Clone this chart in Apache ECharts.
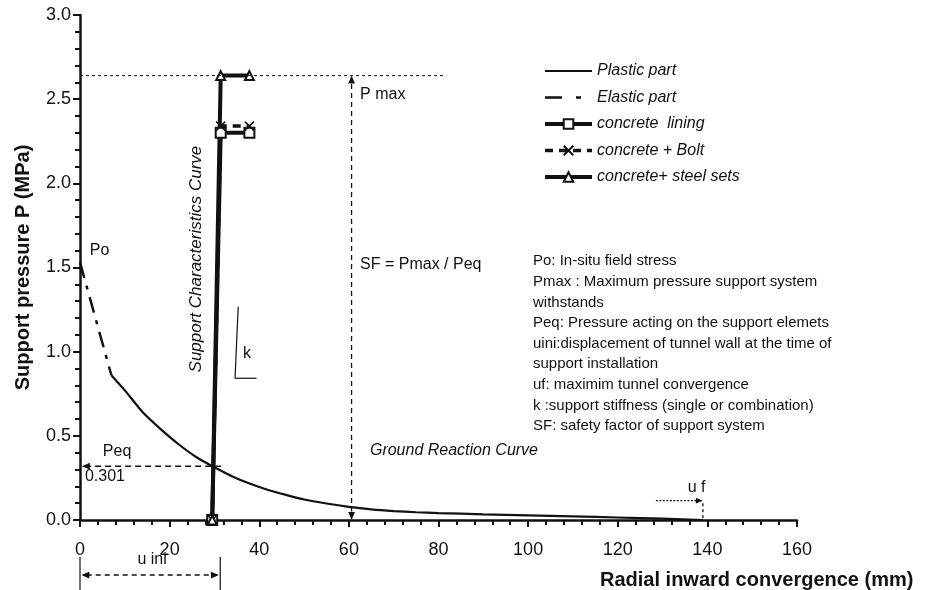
<!DOCTYPE html>
<html lang="en">
<head>
    <meta charset="UTF-8"/>
    <title>GRC / SCC</title>
    <script src="https://cdn.jsdelivr.net/npm/echarts@6.0.0/dist/echarts.min.js"></script>
    <style>
        html, body { margin: 0; padding: 0; background: #fff; }
        #main { width: 944px; height: 590px; }
    </style>
</head>
<body>
<div id="main"></div>

<script type="text/javascript">
    // ground reaction curve (plastic + elastic part)
    var plasticU = [7, 10, 14, 18, 22, 26, 30, 34, 38, 42, 46, 50, 55, 60, 65, 70, 75, 80, 90, 100, 110, 120, 130, 139];
    var plasticP = [0.86, 0.77, 0.64, 0.54, 0.45, 0.373, 0.313, 0.259, 0.215, 0.178, 0.149, 0.122, 0.098, 0.078, 0.063, 0.053, 0.046, 0.041, 0.034, 0.028, 0.022, 0.015, 0.008, 0];
    var elasticU = [0, 7];
    var elasticP = [1.53, 0.86];

    // support characteristic curves
    var supportU = [29.5, 31.4, 37.8];
    var liningP = [0, 2.30, 2.30];
    var boltP = [0, 2.34, 2.34];
    var steelP = [0, 2.64, 2.64];

    var xTicks = [0, 20, 40, 60, 80, 100, 120, 140, 160];
    var yTicks = [0.0, 0.5, 1.0, 1.5, 2.0, 2.5, 3.0];

    // annotation values
    var pMax = 2.64;
    var pEq = 0.32;
    var uIni = 31.3;
    var uF = 139;

    var FONT = 'Liberation Sans, Arial, Helvetica, sans-serif';
    var INK = '#111';

    function pairs(xs, ys) {
        var out = [];
        for (var i = 0; i < xs.length; i++) out.push([xs[i], ys[i]]);
        return out;
    }

    var myChart = echarts.init(document.getElementById('main'));
    var option = {
        animation: false,
        backgroundColor: '#fff',
        grid: { left: 80, right: 147, top: 15, bottom: 70 },
        legend: {
            orient: 'vertical',
            left: 538,
            top: 58,
            itemWidth: 47,
            itemHeight: 12,
            itemGap: 10.5,
            lineStyle: { width: 'inherit' },
            textStyle: { fontFamily: FONT, fontSize: 16, fontStyle: 'italic', color: INK },
            data: [
                { name: 'Plastic part', icon: 'path://M0,0h47v2h-47z' },
                { name: 'Elastic part', icon: 'path://M0,0h17v2.5h-17zM31,0h5v2.5h-5zM46.9,0h0.1v0.1h-0.1z' },
                { name: 'concrete  lining' },
                { name: 'concrete + Bolt' },
                { name: 'concrete+ steel sets' }
            ]
        },
        xAxis: {
            type: 'value',
            min: xTicks[0],
            max: xTicks[xTicks.length - 1],
            interval: xTicks[1] - xTicks[0],
            splitLine: { show: false },
            axisLine: { lineStyle: { color: INK, width: 2.5 } },
            axisTick: { length: 7, lineStyle: { color: INK, width: 2 } },
            minorTick: { show: true, splitNumber: 5, length: 5, lineStyle: { color: INK, width: 2 } },
            axisLabel: { margin: 21, color: INK, fontSize: 18, fontFamily: FONT }
        },
        yAxis: {
            type: 'value',
            min: yTicks[0],
            max: yTicks[yTicks.length - 1],
            interval: yTicks[1] - yTicks[0],
            name: 'Support pressure P (MPa)',
            nameLocation: 'middle',
            nameGap: 47,
            nameTextStyle: { fontFamily: FONT, fontSize: 20, fontWeight: 'bold', color: INK },
            splitLine: { show: false },
            axisLine: { lineStyle: { color: INK, width: 2.5 } },
            axisTick: { length: 7, lineStyle: { color: INK, width: 2 } },
            minorTick: { show: true, splitNumber: 5, length: 5, lineStyle: { color: INK, width: 2 } },
            axisLabel: {
                margin: 9, color: INK, fontSize: 18, fontFamily: FONT,
                formatter: function (v) { return v.toFixed(1); }
            }
        },
        series: [
            {
                name: 'Plastic part',
                type: 'line',
                data: pairs(plasticU, plasticP),
                smooth: 0.2,
                showSymbol: false,
                symbol: 'none',
                itemStyle: { color: INK },
                lineStyle: { color: INK, width: 2.2 }
            },
            {
                name: 'Elastic part',
                type: 'line',
                data: pairs(elasticU, elasticP),
                showSymbol: false,
                symbol: 'none',
                itemStyle: { color: INK },
                lineStyle: { color: INK, width: 2.5, type: [16, 8, 4, 8] }
            },
            {
                name: 'concrete  lining',
                type: 'line',
                data: pairs(supportU, liningP),
                clip: false,
                symbol: 'emptyRect',
                symbolSize: 10,
                itemStyle: { color: INK, borderWidth: 1.5 },
                lineStyle: { color: INK, width: 4 }
            },
            {
                name: 'concrete + Bolt',
                type: 'line',
                data: pairs(supportU, boltP),
                clip: false,
                symbol: 'path://M0,0L10,10M10,0L0,10',
                symbolSize: 9,
                itemStyle: { color: INK, borderColor: INK, borderWidth: 1.5 },
                lineStyle: { color: INK, width: 3.5, type: [8, 6] }
            },
            {
                name: 'concrete+ steel sets',
                type: 'line',
                data: pairs(supportU, steelP),
                clip: false,
                symbol: 'emptyTriangle',
                symbolSize: 9,
                itemStyle: { color: INK, borderWidth: 1.5 },
                lineStyle: { color: INK, width: 4 }
            }
        ]
    };
    myChart.setOption(option);

    // annotations placed through the chart's own scales
    function px(u, p) { return myChart.convertToPixel({ seriesIndex: 0 }, [u, p]); }

    function seg(a, b, dash, w) {
        var p1 = px(a[0], a[1]), p2 = px(b[0], b[1]);
        return {
            type: 'line', silent: true, z: 10,
            shape: { x1: p1[0], y1: p1[1], x2: p2[0], y2: p2[1] },
            style: { stroke: INK, lineWidth: w || 1.3, lineDash: dash || null }
        };
    }

    function head(tip, from, size) {
        var t = px(tip[0], tip[1]), f = px(from[0], from[1]);
        var dx = t[0] - f[0], dy = t[1] - f[1];
        var len = Math.sqrt(dx * dx + dy * dy) || 1;
        dx /= len; dy /= len;
        size = size || 8;
        var bx = t[0] - dx * size, by = t[1] - dy * size;
        var nx = -dy * size * 0.42, ny = dx * size * 0.42;
        return {
            type: 'polygon', silent: true, z: 10,
            shape: { points: [[t[0], t[1]], [bx + nx, by + ny], [bx - nx, by - ny]] },
            style: { fill: INK }
        };
    }

    function txt(u, p, s, o) {
        o = o || {};
        var q = px(u, p);
        return {
            type: 'text', silent: true, z: 10,
            x: q[0], y: q[1], rotation: o.rotation || 0,
            style: {
                text: s, fill: INK, fontFamily: FONT,
                fontSize: o.size || 16, fontStyle: o.italic ? 'italic' : 'normal',
                align: o.align || 'left', verticalAlign: 'middle'
            }
        };
    }

    var notes = [
        // Pmax level and the safety factor arrow
        seg([0, pMax], [81.5, pMax], [3, 3], 1),
        seg([60.6, pMax - 0.05], [60.6, 0.05], [5, 4], 1.3),
        head([60.6, pMax], [60.6, 0]),
        head([60.6, 0], [60.6, pMax]),
        // Peq arrow
        seg([31.5, pEq], [1.5, pEq], [6, 4], 1.5),
        head([0.4, pEq], [31.5, pEq]),
        // initial displacement below the axis
        seg([0, -0.22], [0, -0.42], null, 1.2),
        seg([uIni, -0.22], [uIni, -0.42], null, 1.2),
        seg([1.5, -0.327], [uIni - 1.5, -0.327], [5, 4], 1.5),
        head([0.3, -0.327], [uIni, -0.327]),
        head([uIni - 0.3, -0.327], [0, -0.327]),
        // final convergence
        seg([128.5, 0.115], [uF - 1.5, 0.115], [2, 1.5], 1.2),
        head([uF, 0.115], [128.5, 0.115], 7),
        seg([uF, 0.10], [uF, 0.0], [3, 3], 1.3),
        // stiffness sketch
        seg([35.3, 1.267], [34.6, 0.842], null, 1.2),
        seg([34.6, 0.842], [39.4, 0.842], null, 1.2),
        // labels
        txt(2.2, 1.60, 'Po'),
        txt(5.1, 0.406, 'Peq'),
        txt(1.1, 0.257, '0.301'),
        txt(36.4, 0.99, 'k'),
        txt(25.9, 1.55, 'Support Characteristics Curve', { rotation: Math.PI / 2, align: 'center', italic: true, size: 17 }),
        txt(62.5, 2.525, 'P max'),
        txt(62.5, 1.515, 'SF = Pmax / Peq'),
        txt(64.7, 0.41, 'Ground Reaction Curve', { italic: true }),
        txt(137.6, 0.19, 'u f', { align: 'center' }),
        txt(16.1, -0.238, 'u ini', { align: 'center' }),
        {
            type: 'text', silent: true, left: 533, top: 251,
            style: {
                text: 'Po: In-situ field stress\n' +
                      'Pmax : Maximum pressure support system\n' +
                      'withstands\n' +
                      'Peq: Pressure acting on the support elemets\n' +
                      'uini:displacement of tunnel wall at the time of\n' +
                      'support installation\n' +
                      'uf: maximim tunnel convergence\n' +
                      'k :support stiffness (single or combination)\n' +
                      'SF: safety factor of support system',
                fill: INK, fontFamily: FONT, fontSize: 15, lineHeight: 20.6
            }
        },
        {
            type: 'text', silent: true, left: 600, top: 570,
            style: {
                text: 'Radial inward convergence (mm)',
                fill: INK, fontFamily: FONT, fontSize: 20, fontWeight: 'bold'
            }
        }
    ];
    myChart.setOption({ graphic: notes });
</script>
</body>
</html>
